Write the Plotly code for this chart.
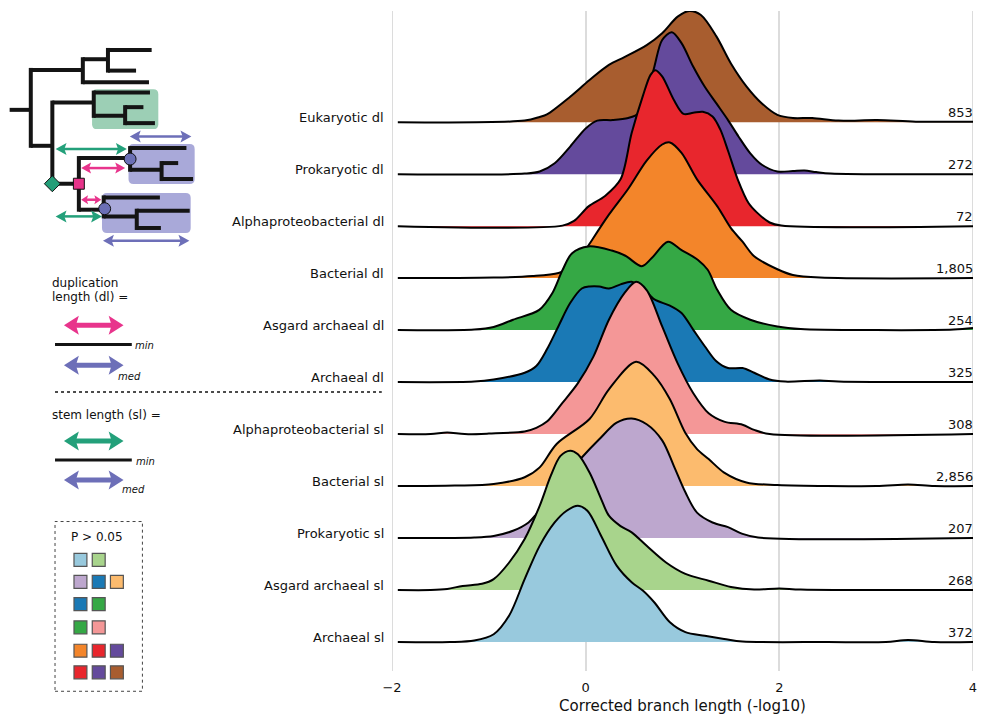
import plotly.graph_objects as go

# ---------------------------------------------------------------- data
# ridgeline rows, listed bottom to top
row_names = ["Archaeal sl", "Asgard archaeal sl", "Prokaryotic sl", "Bacterial sl",
             "Alphaproteobacterial sl", "Archaeal dl", "Asgard archaeal dl",
             "Bacterial dl", "Alphaproteobacterial dl", "Prokaryotic dl", "Eukaryotic dl"]
row_counts = ["372", "268", "207", "2,856", "308", "325", "254", "1,805", "72", "272", "853"]
row_colors = ["#98c9dd", "#a8d48c", "#bda7ce", "#fcbb6e", "#f49797", "#1a79b5",
              "#35a845", "#f3852a", "#e8262d", "#644a9c", "#a85d2f"]

x_ticks = [-2, 0, 2, 4]

# density profiles: x = corrected branch length (-log10), h = ridge height (row spacings)
archaeal_sl_x = [-1.94, -1.4, -1.15, -0.95, -0.79, -0.63, -0.475, -0.32, -0.20, -0.08, 0.02, 0.16,
                 0.32, 0.475, 0.59, 0.71, 0.87, 1.03, 1.23, 1.43, 1.62, 2.5, 3.1, 3.33, 3.6, 4.0]
archaeal_sl_h = [0, 0, 0.03, 0.15, 0.51, 1.21, 1.85, 2.30, 2.52, 2.62, 2.52, 2.04,
                 1.47, 1.15, 0.99, 0.76, 0.38, 0.19, 0.12, 0.06, 0.01, 0, 0, 0.04, 0, 0]

asgard_sl_x = [-1.94, -1.6, -1.43, -1.27, -1.07, -0.95, -0.79, -0.63, -0.475, -0.36, -0.26, -0.16,
               -0.08, 0.04, 0.16, 0.24, 0.36, 0.475, 0.63, 0.83, 1.03, 1.27, 1.50, 1.74, 2.0, 2.22, 4.0]
asgard_sl_h = [0, 0, 0.02, 0.08, 0.12, 0.21, 0.53, 0.98, 1.62, 2.20, 2.58, 2.68,
               2.61, 2.26, 1.75, 1.43, 1.23, 1.11, 0.85, 0.53, 0.31, 0.18, 0.06, 0.01, 0.03, 0.01, 0]

prokaryotic_sl_x = [-1.94, -1.15, -0.95, -0.75, -0.59, -0.51, -0.30, -0.15, -0.04, 0.14, 0.32,
                    0.475, 0.63, 0.79, 0.91, 1.03, 1.15, 1.31, 1.47, 1.62, 1.78, 4.0]
prokaryotic_sl_h = [0, 0.01, 0.04, 0.14, 0.30, 0.46, 0.96, 1.31, 1.55, 1.90, 2.22,
                    2.30, 2.19, 1.88, 1.39, 0.88, 0.49, 0.30, 0.21, 0.08, 0.01, 0]

bacterial_sl_x = [-1.94, -1.35, -0.95, -0.63, -0.475, -0.30, 0.04, 0.24, 0.52, 0.71, 0.87,
                  1.03, 1.15, 1.27, 1.43, 1.66, 1.98, 3.0, 3.33, 3.6, 4.0]
bacterial_sl_h = [0, 0.01, 0.04, 0.17, 0.36, 0.81, 1.29, 1.86, 2.39, 2.12, 1.67,
                  1.02, 0.71, 0.52, 0.26, 0.07, 0.02, 0, 0.03, 0, 0]

alpha_sl_x = [-1.94, -1.6, -1.43, -1.25, -1.0, -0.63, -0.51, -0.40, -0.24, -0.08, 0.08, 0.24,
              0.40, 0.52, 0.63, 0.79, 0.95, 1.11, 1.27, 1.43, 1.62, 1.74, 1.90, 4.0]
alpha_sl_h = [0, 0, 0.03, 0, 0.01, 0.05, 0.12, 0.24, 0.60, 0.98, 1.49, 2.20,
              2.71, 2.93, 2.77, 2.07, 1.36, 0.79, 0.40, 0.24, 0.18, 0.08, 0, 0]

archaeal_dl_x = [-1.94, -1.15, -0.95, -0.63, -0.51, -0.40, -0.28, -0.16, -0.04, 0.04, 0.14, 0.24,
                 0.36, 0.475, 0.60, 0.71, 0.87, 0.99, 1.11, 1.23, 1.35, 1.47, 1.62, 1.74, 1.90,
                 2.06, 2.42, 2.61, 4.0]
archaeal_dl_h = [0, 0.01, 0.05, 0.18, 0.31, 0.63, 1.08, 1.52, 1.80, 1.84, 1.84, 1.80,
                 1.88, 1.93, 1.79, 1.59, 1.47, 1.33, 1.01, 0.69, 0.40, 0.27, 0.27, 0.18, 0.05,
                 0.01, 0.03, 0.01, 0]

asgard_dl_x = [-1.94, -1.15, -0.95, -0.75, -0.48, -0.345, -0.24, -0.14, 0.03, 0.27, 0.41,
               0.58, 0.68, 0.85, 0.99, 1.16, 1.26, 1.36, 1.50, 1.70, 1.98, 2.22, 3.0, 3.8, 4.0]
asgard_dl_h = [0, 0.01, 0.06, 0.20, 0.39, 0.71, 1.15, 1.48, 1.61, 1.53, 1.43,
               1.23, 1.38, 1.70, 1.54, 1.35, 1.16, 0.77, 0.39, 0.20, 0.07, 0.02, 0, 0.01, 0.04]

bacterial_dl_x = [-1.94, -0.95, -0.55, -0.28, -0.15, -0.05, 0.04, 0.24, 0.44, 0.63, 0.79, 0.87,
                  0.99, 1.15, 1.36, 1.50, 1.62, 1.74, 1.98, 2.14, 2.42, 4.0]
bacterial_dl_h = [0, 0.01, 0.04, 0.10, 0.21, 0.40, 0.66, 1.22, 1.72, 2.26, 2.57, 2.61,
                  2.41, 1.90, 1.38, 0.96, 0.70, 0.42, 0.17, 0.06, 0.01, 0]

alpha_dl_x = [-1.94, -0.24, -0.12, 0.03, 0.20, 0.36, 0.475, 0.59, 0.67, 0.72, 0.79,
              0.91, 1.01, 1.11, 1.21, 1.31, 1.39, 1.47, 1.57, 1.68, 1.77, 1.90, 2.02, 4.0]
alpha_dl_h = [0, 0.01, 0.10, 0.38, 0.58, 0.90, 1.79, 2.50, 2.91, 3.00, 2.88,
              2.43, 2.16, 2.18, 2.20, 2.11, 1.86, 1.45, 0.90, 0.45, 0.26, 0.07, 0.01, 0]

prokaryotic_dl_x = [-1.94, -0.63, -0.475, -0.32, -0.16, 0, 0.12, 0.28, 0.44, 0.55, 0.63, 0.71,
                    0.79, 0.89, 0.99, 1.11, 1.23, 1.35, 1.47, 1.58, 1.70, 1.82, 1.98, 2.14,
                    2.26, 2.38, 2.53, 4.0]
prokaryotic_dl_h = [0, 0.01, 0.05, 0.21, 0.53, 0.88, 1.03, 1.04, 1.08, 1.17, 1.49, 2.07,
                    2.58, 2.73, 2.52, 2.07, 1.68, 1.36, 1.04, 0.72, 0.40, 0.18, 0.05, 0.06,
                    0.07, 0.04, 0.01, 0]

eukaryotic_dl_x = [-1.94, -0.63, -0.475, -0.40, -0.16, 0.04, 0.24, 0.40, 0.63, 0.79, 0.95, 1.07,
                   1.19, 1.35, 1.50, 1.66, 1.82, 1.98, 2.14, 2.34, 2.61, 3.01, 3.41, 4.0]
eukaryotic_dl_h = [0, 0.03, 0.10, 0.15, 0.49, 0.81, 1.10, 1.25, 1.48, 1.71, 2.03, 2.14,
                   2.06, 1.65, 1.13, 0.69, 0.36, 0.14, 0.08, 0.08, 0.03, 0.04, 0.01, 0.01]

profiles = [
    (archaeal_sl_x, archaeal_sl_h), (asgard_sl_x, asgard_sl_h),
    (prokaryotic_sl_x, prokaryotic_sl_h), (bacterial_sl_x, bacterial_sl_h),
    (alpha_sl_x, alpha_sl_h), (archaeal_dl_x, archaeal_dl_h),
    (asgard_dl_x, asgard_dl_h), (bacterial_dl_x, bacterial_dl_h),
    (alpha_dl_x, alpha_dl_h), (prokaryotic_dl_x, prokaryotic_dl_h),
    (eukaryotic_dl_x, eukaryotic_dl_h),
]

# groups of rows that are not significantly different (P > 0.05)
p_groups = [
    ["Archaeal sl", "Asgard archaeal sl"],
    ["Prokaryotic sl", "Archaeal dl", "Bacterial sl"],
    ["Archaeal dl", "Asgard archaeal dl"],
    ["Asgard archaeal dl", "Alphaproteobacterial sl"],
    ["Bacterial dl", "Alphaproteobacterial dl", "Prokaryotic dl"],
    ["Alphaproteobacterial dl", "Prokaryotic dl", "Eukaryotic dl"],
]

# ---------------------------------------------------------------- layout constants
FONT = "DejaVu Sans"
FIG_W, FIG_H = 984, 718
M_L, M_R, M_T, M_B = 392, 7, 11, 46
PW, PH = FIG_W - M_L - M_R, FIG_H - M_T - M_B
Y_LO, Y_HI = -0.557, 12.138
GRID = "#dcdcdc"

# pixel -> paper helpers for the explanatory panel on the left
def px(x):
    return (x - M_L) / PW

def py(y):
    return (M_T + PH - y) / PH

fig = go.Figure()

# ridges: top row first so lower rows overlap it
for i in reversed(range(len(row_names))):
    xs, hs = profiles[i]
    fig.add_trace(go.Scatter(x=[xs[0], xs[-1]], y=[i, i], mode="lines",
                             line=dict(width=0), showlegend=False, hoverinfo="skip"))
    fig.add_trace(go.Scatter(x=xs, y=[i + h for h in hs], mode="lines",
                             line=dict(color="black", width=2, shape="spline", smoothing=0.9),
                             fill="tonexty", fillcolor=row_colors[i],
                             name=row_names[i], showlegend=False))

annotations = []
for i, (name, n) in enumerate(zip(row_names, row_counts)):
    annotations.append(dict(xref="paper", yref="y", x=0, y=i, xanchor="right", yanchor="middle",
                            xshift=-6, yshift=5, text=name, showarrow=False,
                            font=dict(family=FONT, size=13, color="#111")))
    annotations.append(dict(xref="paper", yref="y", x=1, y=i, xanchor="right", yanchor="middle",
                            xshift=2, yshift=10, text=n, showarrow=False,
                            font=dict(family=FONT, size=13, color="#111")))

shapes = []

# grid lines at the two ends of the x range (plotly skips those)
for xv in (x_ticks[0], x_ticks[-1]):
    shapes.append(dict(type="line", xref="x", yref="paper", x0=xv, x1=xv, y0=0, y1=1,
                       layer="below", line=dict(color=GRID, width=2)))

def seg(x0, y0, x1, y1, color="#141414", w=4, dash=None):
    line = dict(color=color, width=w)
    if dash:
        line["dash"] = dash
    shapes.append(dict(type="line", xref="paper", yref="paper",
                       x0=px(x0), y0=py(y0), x1=px(x1), y1=py(y1), line=line))

def pathstr(cmds):
    out = []
    for c in cmds:
        if isinstance(c, str):
            out.append(c)
        else:
            out.append(f"{px(c[0]):.5f},{py(c[1]):.5f}")
    return " ".join(out)

def rrect(x0, y0, x1, y1, r, color):
    p = pathstr(["M", (x0 + r, y0), "L", (x1 - r, y0), "Q", (x1, y0), (x1, y0 + r),
                 "L", (x1, y1 - r), "Q", (x1, y1), (x1 - r, y1), "L", (x0 + r, y1),
                 "Q", (x0, y1), (x0, y1 - r), "L", (x0, y0 + r), "Q", (x0, y0), (x0 + r, y0), "Z"])
    shapes.append(dict(type="path", xref="paper", yref="paper", path=p,
                       fillcolor=color, line=dict(width=0)))

def darrow(x0, x1, y, color, lw, hl, hw):
    seg(x0 + hl * 0.7, y, x1 - hl * 0.7, y, color=color, w=lw)
    for tip, s in ((x0, 1), (x1, -1)):
        p = pathstr(["M", (tip, y), "L", (tip + s * hl, y - hw / 2), "L", (tip + s * hl * 0.8, y),
                     "L", (tip + s * hl, y + hw / 2), "Z"])
        shapes.append(dict(type="path", xref="paper", yref="paper", path=p,
                           fillcolor=color, line=dict(width=0)))

GREEN_A, PINK_A, PURPLE_A = "#23a07a", "#e8348c", "#6d6fb8"

# highlighted clades
rrect(90, 89.3, 156.7, 129.3, 5, "#9ccfb5")
rrect(126.7, 144.3, 193.3, 184.3, 5, "#a9a9d9")
rrect(100, 193.3, 189.3, 233.3, 5, "#a9a9d9")

# tree branches
h_lines = [(110, 7, 28.3), (70, 28.3, 80.7), (59.3, 80.7, 106), (50, 106, 150),
           (70.7, 106, 134.3), (82.3, 80.7, 147.3), (146, 28.3, 50), (102.7, 50, 91.7),
           (92.7, 91.7, 148.3), (116, 91.7, 123.3), (107.3, 123.3, 141.7), (123.3, 123.3, 153.3),
           (184, 50, 76.7), (158.3, 76.7, 128.3), (148.3, 128.3, 185), (170, 128.3, 160),
           (163.3, 160, 176.7), (179.3, 160, 191.7), (210, 76.7, 101.7), (197.7, 101.7, 158.3),
           (216.7, 101.7, 135), (211, 135, 188.3), (228.3, 135, 159.3)]
v_lines = [(28.3, 70, 146), (80.7, 59.3, 82.3), (106, 50, 70.7), (50, 102.7, 184),
           (91.7, 92.7, 116), (123.3, 107.3, 123.3), (76.7, 158.3, 210), (128.3, 148.3, 170),
           (160, 163.3, 179.3), (101.7, 197.7, 216.7), (135, 211, 228.3)]
for y, a, b in h_lines:
    seg(a, y, b, y)
for x, a, b in v_lines:
    seg(x, a - 2, x, b + 2)

# branch-length arrows on the tree
darrow(128, 190, 136.7, PURPLE_A, 2.5, 11, 12)
darrow(53.3, 125, 149.3, GREEN_A, 2.5, 11, 12)
darrow(79, 123.3, 168.3, PINK_A, 2.5, 10, 11)
darrow(79, 99.3, 200, PINK_A, 2.5, 7, 9)
darrow(53.3, 100, 216.7, GREEN_A, 2.5, 11, 12)
darrow(101, 188, 241, PURPLE_A, 2.5, 11, 12)

# nodes: duplication (square), speciation (diamond), clade crowns (circles)
shapes.append(dict(type="path", xref="paper", yref="paper",
                   path=pathstr(["M", (50, 176), "L", (58, 184), "L", (50, 192), "L", (42, 184), "Z"]),
                   fillcolor="#239e78", line=dict(color="#111", width=1)))
shapes.append(dict(type="rect", xref="paper", yref="paper", x0=px(71.2), x1=px(82.2),
                   y0=py(189.5), y1=py(178.5), fillcolor="#e7338a", line=dict(color="#111", width=1)))
for cx, cy in ((128.3, 159.3), (102.7, 209)):
    shapes.append(dict(type="circle", xref="paper", yref="paper", x0=px(cx - 6), x1=px(cx + 6),
                       y0=py(cy + 6), y1=py(cy - 6), fillcolor="#6b6fb5",
                       line=dict(color="#111", width=1)))

# definitions of dl and sl
def text(x, y, s, size=12, italic=False):
    annotations.append(dict(xref="paper", yref="paper", x=px(x), y=py(y), xanchor="left",
                            yanchor="middle", text=f"<i>{s}</i>" if italic else s,
                            showarrow=False, font=dict(family=FONT, size=size, color="#111")))

text(48, 283.3, "duplication")
text(48, 297.7, "length (dl) =")
darrow(61.7, 121.7, 325.7, PINK_A, 5, 15, 19)
seg(52.7, 345, 130, 345, color="#141414", w=3)
text(131, 346.5, "min", 10, True)
darrow(61.7, 121.7, 365.7, PURPLE_A, 5, 15, 19)
text(114, 377, "med", 10, True)

seg(52.7, 392.7, 381.7, 392.7, color="#111", w=1.5, dash="dot")

text(48, 415.7, "stem length (sl) =")
darrow(61.7, 121.7, 441.7, GREEN_A, 5, 15, 19)
seg(52.7, 460.7, 130, 460.7, color="#141414", w=3)
text(132, 462, "min", 10, True)
darrow(61.7, 121.7, 480.7, PURPLE_A, 5, 15, 19)
text(118, 490, "med", 10, True)

# P > 0.05 key
shapes.append(dict(type="rect", xref="paper", yref="paper", x0=px(52.7), x1=px(140.7),
                   y0=py(692.3), y1=py(522.3), line=dict(color="#444", width=1, dash="dot")))
text(66.5, 537.3, "P &gt; 0.05", 12)
color_of = dict(zip(row_names, row_colors))
group_rows_y = [560.7, 582.7, 605, 628.3, 651.7, 673.3]
group_cols_x = [78.3, 96.7, 115]
for gy, grp in zip(group_rows_y, p_groups):
    for gx, name in zip(group_cols_x, grp):
        shapes.append(dict(type="rect", xref="paper", yref="paper",
                           x0=px(gx - 6.5), x1=px(gx + 6.5), y0=py(gy + 6.5), y1=py(gy - 6.5),
                           fillcolor=color_of[name], line=dict(color="#555", width=1.2)))

fig.update_layout(
    width=FIG_W, height=FIG_H,
    margin=dict(l=M_L, r=M_R, t=M_T, b=M_B),
    paper_bgcolor="white", plot_bgcolor="white",
    font=dict(family=FONT, color="#111"),
    xaxis=dict(range=[-2, 4], tickvals=x_ticks, showgrid=True, gridcolor=GRID, gridwidth=2,
               zeroline=False, showline=False, ticks="outside", ticklen=4,
               tickcolor="rgba(0,0,0,0)", tickfont=dict(size=13, family=FONT, color="#111"),
               title=dict(text="Corrected branch length (-log10)", standoff=6,
                          font=dict(size=15, family=FONT, color="#111"))),
    yaxis=dict(range=[Y_LO, Y_HI], showgrid=False, zeroline=False, showticklabels=False,
               showline=False),
    annotations=annotations,
    shapes=shapes,
    showlegend=False,
)

fig.write_html("out.html")
